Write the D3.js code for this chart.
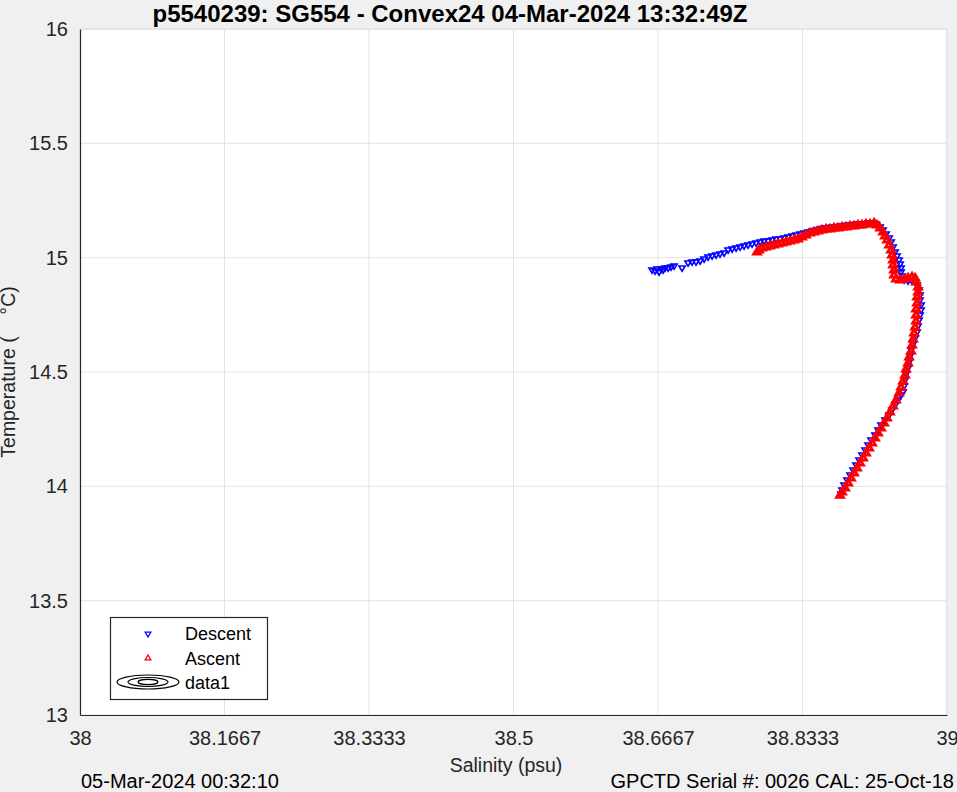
<!DOCTYPE html>
<html><head><meta charset="utf-8">
<script src="https://cdn.jsdelivr.net/npm/d3@7"></script>
<style>
html,body{margin:0;padding:0;background:#f0f0f0;}
text{font-family:"Liberation Sans",Arial,Helvetica,sans-serif;}
</style></head>
<body>
<svg id="chart" width="957" height="792"></svg>
<script>
const titleText = "p5540239: SG554 - Convex24 04-Mar-2024 13:32:49Z";
const xLabel = "Salinity (psu)";
const yLabel = "Temperature (    \u00B0C)";
const footLeft = "05-Mar-2024 00:32:10";
const footRight = "GPCTD Serial #: 0026 CAL: 25-Oct-18";
const salTicks = [38, 38.1667, 38.3333, 38.5, 38.6667, 38.8333, 39];
const salTickLabels = ["38", "38.1667", "38.3333", "38.5", "38.6667", "38.8333", "39"];
const tempTicks = [13, 13.5, 14, 14.5, 15, 15.5, 16];
const tempTickLabels = ["13", "13.5", "14", "14.5", "15", "15.5", "16"];
const legendLabels = ["Descent", "Ascent", "data1"];

const descentSal = [38.6598,38.6633,38.6656,38.6679,38.6702,38.6725,38.6748,38.6783,38.6817,38.6852,38.6944,38.7013,38.7059,38.7105,38.7152,38.7198,38.7244,38.7290,38.7336,38.7382,38.7429,38.7475,38.7521,38.7567,38.7613,38.7659,38.7705,38.7751,38.7798,38.7844,38.7890,38.7936,38.7982,38.8028,38.8075,38.8121,38.8167,38.8213,38.8259,38.8305,38.8351,38.8398,38.8444,38.8490,38.8536,38.8582,38.8628,38.8674,38.8721,38.8767,38.8813,38.8859,38.8905,38.8951,38.8997,38.9044,38.9090,38.9136,38.9182,38.9228,38.9262,38.9297,38.9332,38.9355,38.9378,38.9401,38.9424,38.9447,38.9459,38.9470,38.9470,38.9482,38.9505,38.9551,38.9597,38.9632,38.9655,38.9678,38.9689,38.9689,38.9701,38.9701,38.9689,38.9678,38.9666,38.9655,38.9632,38.9609,38.9586,38.9574,38.9563,38.9551,38.9528,38.9516,38.9505,38.9493,38.9470,38.9435,38.9401,38.9366,38.9332,38.9285,38.9239,38.9205,38.9170,38.9124,38.9090,38.9055,38.9020,38.8986,38.8951,38.8917,38.8882,38.8847,38.8813,38.8790,38.8778];
const descentTemp = [14.9462,14.9418,14.9506,14.9375,14.9506,14.9462,14.9549,14.9549,14.9593,14.9637,14.9549,14.9768,14.9812,14.9812,14.9855,14.9943,15.0030,15.0074,15.0118,15.0161,15.0205,15.0336,15.0380,15.0424,15.0467,15.0511,15.0555,15.0598,15.0642,15.0686,15.0730,15.0730,15.0773,15.0817,15.0817,15.0861,15.0904,15.0948,15.0992,15.1036,15.1079,15.1123,15.1167,15.1210,15.1254,15.1298,15.1298,15.1342,15.1342,15.1385,15.1385,15.1429,15.1429,15.1473,15.1473,15.1473,15.1516,15.1516,15.1473,15.1342,15.1210,15.1036,15.0861,15.0686,15.0467,15.0249,15.0074,14.9899,14.9724,14.9549,14.9375,14.9200,14.9025,14.8981,14.8981,14.8937,14.8806,14.8587,14.8369,14.8150,14.7931,14.7713,14.7494,14.7275,14.7013,14.6750,14.6487,14.6225,14.5962,14.5700,14.5437,14.5175,14.4912,14.4650,14.4387,14.4125,14.3993,14.3775,14.3556,14.3337,14.3118,14.2900,14.2681,14.2462,14.2243,14.2025,14.1806,14.1587,14.1368,14.1150,14.0931,14.0712,14.0494,14.0275,14.0056,13.9837,13.9662];
const ascentSal = [38.8766,38.8790,38.8824,38.8859,38.8893,38.8928,38.8962,38.8997,38.9032,38.9066,38.9101,38.9136,38.9170,38.9205,38.9239,38.9274,38.9309,38.9343,38.9378,38.9412,38.9447,38.9470,38.9493,38.9516,38.9528,38.9551,38.9563,38.9586,38.9597,38.9609,38.9620,38.9632,38.9643,38.9643,38.9643,38.9655,38.9655,38.9666,38.9666,38.9643,38.9632,38.9597,38.9551,38.9505,38.9459,38.9412,38.9389,38.9389,38.9378,38.9378,38.9366,38.9355,38.9332,38.9309,38.9285,38.9262,38.9228,38.9193,38.9159,38.9112,38.9066,38.9020,38.8974,38.8928,38.8882,38.8836,38.8790,38.8743,38.8697,38.8651,38.8605,38.8559,38.8513,38.8467,38.8420,38.8374,38.8328,38.8282,38.8236,38.8190,38.8144,38.8097,38.8051,38.8005,38.7959,38.7913,38.7867,38.7832,38.7809];
const ascentTemp = [13.9618,13.9750,13.9925,14.0144,14.0362,14.0581,14.0800,14.1019,14.1237,14.1456,14.1675,14.1893,14.2112,14.2331,14.2549,14.2768,14.2987,14.3250,14.3512,14.3775,14.4081,14.4343,14.4606,14.4868,14.5131,14.5393,14.5656,14.5919,14.6181,14.6444,14.6706,14.6969,14.7231,14.7494,14.7756,14.8019,14.8281,14.8500,14.8719,14.8937,14.9112,14.9156,14.9112,14.9068,14.9025,14.9068,14.9243,14.9462,14.9681,14.9899,15.0118,15.0336,15.0555,15.0773,15.0948,15.1123,15.1298,15.1429,15.1516,15.1473,15.1473,15.1429,15.1429,15.1385,15.1385,15.1342,15.1342,15.1298,15.1298,15.1254,15.1254,15.1210,15.1167,15.1123,15.1079,15.0992,15.0904,15.0817,15.0773,15.0730,15.0686,15.0642,15.0598,15.0555,15.0511,15.0467,15.0424,15.0336,15.0249];

const descent = descentSal.map((s, i) => ({s, t: descentTemp[i]}));
const ascent = ascentSal.map((s, i) => ({s, t: ascentTemp[i]}));

const W = 957, H = 792;
const plot = {left: 80, right: 947, top: 29, bottom: 715};
const svg = d3.select("#chart");
svg.append("rect").attr("width", W).attr("height", H).attr("fill", "#f0f0f0");

const x = d3.scaleLinear().domain([38, 39]).range([plot.left, plot.right]);
const y = d3.scaleLinear().domain([13, 16]).range([plot.bottom, plot.top]);

svg.append("rect").attr("x", plot.left).attr("y", plot.top)
  .attr("width", plot.right - plot.left).attr("height", plot.bottom - plot.top)
  .attr("fill", "#ffffff");

// grid
const grid = svg.append("g");
grid.selectAll("line.gx").data(salTicks).join("line")
  .attr("x1", d => x(d)).attr("x2", d => x(d))
  .attr("y1", plot.top).attr("y2", plot.bottom)
  .attr("stroke", "#e3e3e3").attr("stroke-width", 1);
grid.selectAll("line.gy").data(tempTicks).join("line")
  .attr("x1", plot.left).attr("x2", plot.right)
  .attr("y1", d => y(d)).attr("y2", d => y(d))
  .attr("stroke", "#e3e3e3").attr("stroke-width", 1);

// triangle paths
function triUp(r){ return `M0,${-r}L${r*0.95},${r*0.6}L${-r*0.95},${r*0.6}Z`; }
function triDown(r){ return `M0,${r}L${r*0.95},${-r*0.6}L${-r*0.95},${-r*0.6}Z`; }

const marks = svg.append("g");
marks.selectAll("path.d").data(descent).join("path")
  .attr("transform", d => `translate(${x(d.s)},${y(d.t)})`)
  .attr("d", triDown(3.3)).attr("fill", "none")
  .attr("stroke", "#0000ff").attr("stroke-width", 1.6);
marks.selectAll("path.a").data(ascent).join("path")
  .attr("transform", d => `translate(${x(d.s)},${y(d.t)})`)
  .attr("d", triUp(3.6)).attr("fill", "none")
  .attr("stroke", "#ff0000").attr("stroke-width", 2.8);

// axis box
svg.append("line").attr("x1", plot.left).attr("x2", plot.right).attr("y1", plot.top + 0.5).attr("y2", plot.top + 0.5)
  .attr("stroke", "#e3e3e3");
svg.append("line").attr("x1", plot.right - 0.5).attr("x2", plot.right - 0.5).attr("y1", plot.top).attr("y2", plot.bottom)
  .attr("stroke", "#e3e3e3");

const xAxis = d3.axisBottom(x).tickValues(salTicks)
  .tickFormat((d, i) => salTickLabels[i]).tickSize(0).tickPadding(16);
const gx = svg.append("g").attr("transform", `translate(0,${plot.bottom})`).call(xAxis);
gx.select(".domain").attr("stroke", "#262626").attr("stroke-width", 1.2);
gx.selectAll("text").attr("font-size", 20).attr("fill", "#262626")
  .attr("font-family", "Liberation Sans, Arial, sans-serif");

const yAxis = d3.axisLeft(y).tickValues(tempTicks)
  .tickFormat((d, i) => tempTickLabels[i]).tickSize(0).tickPadding(12);
const gy = svg.append("g").attr("transform", `translate(${plot.left},0)`).call(yAxis);
gy.select(".domain").attr("stroke", "#262626").attr("stroke-width", 1.2);
gy.selectAll("text").attr("font-size", 20).attr("fill", "#262626")
  .attr("font-family", "Liberation Sans, Arial, sans-serif");

// legend
const lg = svg.append("g");
lg.append("rect").attr("x", 110.5).attr("y", 617.5).attr("width", 157).attr("height", 82)
  .attr("fill", "#ffffff").attr("fill-opacity", 0.92).attr("stroke", "#262626").attr("stroke-width", 1.2);
lg.append("path").attr("transform", "translate(148,634)").attr("d", triDown(3))
  .attr("fill", "none").attr("stroke", "#0000ff").attr("stroke-width", 1.3);
lg.append("path").attr("transform", "translate(148,658)").attr("d", triUp(3))
  .attr("fill", "none").attr("stroke", "#ff0000").attr("stroke-width", 1.3);
[[31, 7], [20, 4.5], [10, 2.6]].forEach(([rx, ry]) => {
  lg.append("ellipse").attr("cx", 148).attr("cy", 682).attr("rx", rx).attr("ry", ry)
    .attr("fill", "none").attr("stroke", "#000000").attr("stroke-width", 1.2);
});
lg.selectAll("text.lt").data(legendLabels).join("text")
  .attr("x", 185).attr("y", (d, i) => 640 + i * 24.5)
  .attr("font-size", 18).attr("fill", "#000").text(d => d);

// titles
svg.append("text").attr("x", 450).attr("y", 22).attr("text-anchor", "middle")
  .attr("font-size", 24).attr("font-weight", "bold").attr("fill", "#000").text(titleText);
svg.append("text").attr("x", 506).attr("y", 772).attr("text-anchor", "middle")
  .attr("font-size", 19.5).attr("fill", "#262626").text(xLabel);
svg.append("text").attr("transform", "translate(15,372) rotate(-90)").attr("text-anchor", "middle")
  .style("white-space", "pre").attr("font-size", 19.5).attr("fill", "#262626").text(yLabel);
svg.append("text").attr("x", 81).attr("y", 788).attr("font-size", 20).attr("fill", "#000").text(footLeft);
svg.append("text").attr("x", 954).attr("y", 788).attr("text-anchor", "end").attr("font-size", 20).attr("fill", "#000").text(footRight);
</script>
</body></html>
